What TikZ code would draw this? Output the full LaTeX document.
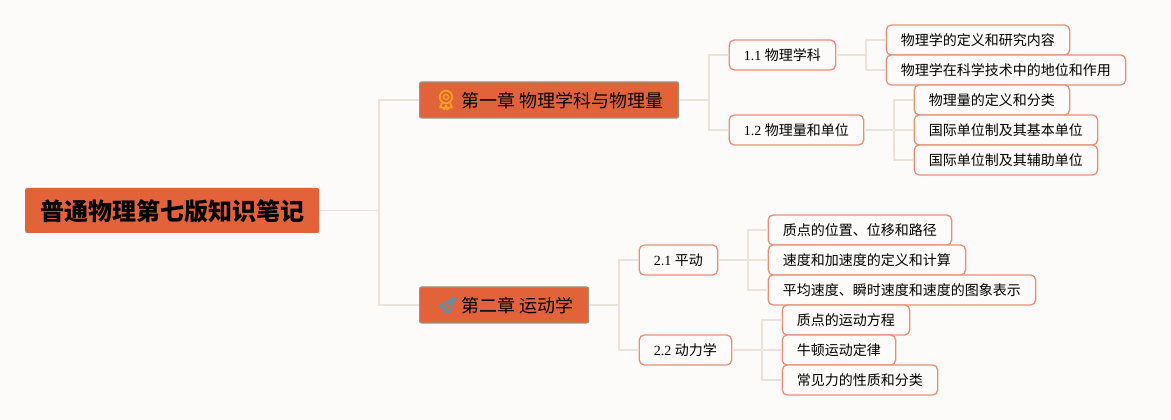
\documentclass[tikz,border=0pt]{standalone}
\usepackage{fontspec}
\setmainfont{Liberation Serif}
\newfontfamily\cjk{Noto Sans CJK SC}
\usepackage{tikz}

\definecolor{paper}{HTML}{FCFBFA}
\definecolor{linkcol}{HTML}{EDE2D8}
\definecolor{leafcol}{HTML}{E98E74}
\definecolor{chapcol}{HTML}{E2623A}
\definecolor{chapline}{HTML}{9C937F}
\definecolor{medalcol}{HTML}{F4A41F}
\definecolor{planecol}{HTML}{5E8FAF}

\tikzset{
  rootbox/.style={anchor=west,fill=chapcol,rounded corners=2pt,inner xsep=15pt,inner ysep=0pt,minimum height=45pt,text height=22pt,text depth=2pt,font=\cjk\bfseries\fontsize{24}{24}\selectfont},
  chapbox/.style={anchor=west,fill=chapcol,draw=chapline,line width=1.2pt,rounded corners=2pt,inner xsep=15pt,inner ysep=0pt,minimum height=36pt,text height=17pt,text depth=1.4pt,font=\cjk\fontsize{18}{18}\selectfont},
  secbox/.style={anchor=west,fill=paper,draw=leafcol,line width=1.3pt,rounded corners=5pt,inner xsep=14.7pt,inner ysep=0pt,minimum height=30pt,text height=13pt,text depth=1pt,font=\fontsize{14}{14}\selectfont},
  leafbox/.style={secbox,font=\cjk\fontsize{14}{14}\selectfont},
  link/.style={draw=linkcol,line width=1.5pt},
  medal/.pic={
    \draw[medalcol,line width=1.7pt] (-1,3) circle (6.3pt);
    \draw[medalcol,line width=1.5pt] (-1,3) circle (2.6pt);
    \draw[medalcol,line width=1.7pt,line join=round] (-5,-3) -- (-7,-7.5) -- (-4,-7.5) -- (-2.5,-9.5) -- (-1,-5);
    \draw[medalcol,line width=1.7pt,line join=round] (3,-3) -- (5,-7.5) -- (2,-7.5) -- (0.5,-9.5) -- (-1,-5);
  },
  plane/.pic={
    \draw[planecol,line width=2pt,line join=round] (8.5,7.5) -- (-7.5,-1) -- (-3,-3.5) -- (2,-8) -- cycle;
    \draw[planecol,line width=1.6pt,line join=round] (8.5,7.5) -- (-3,-3.5) -- (-3,-8) -- (-0.5,-5.8);
  }
}

\begin{document}
\begin{tikzpicture}[x=1pt,y=1pt]
\useasboundingbox[fill=paper] (0,0) rectangle (1171,420);

\node[rootbox] (root) at (25,209.5) {普通物理第七版知识笔记};

\node[chapbox] (ch1) at (419,320) {\hspace{27pt}第一章 物理学科与物理量};
\node[chapbox] (ch2) at (419,115) {\hspace{27pt}第二章 运动学};

\node[secbox] (s11) at (728.6,365) {1.1 {\cjk 物理学科}};
\node[secbox] (s12) at (728.6,290) {1.2 {\cjk 物理量和单位}};
\node[secbox] (s21) at (638.6,160) {2.1 {\cjk 平动}};
\node[secbox] (s22) at (638.6,70) {2.2 {\cjk 动力学}};

\coordinate (j0) at (379,209.5);
\coordinate (j1) at (709,320);
\coordinate (j2) at (619,115);
\coordinate (j11) at (866,365);
\coordinate (j12) at (894,290);
\coordinate (j21) at (748,160);
\coordinate (j22) at (762,70);

\node[leafbox] (a1) at (885.6,380) {物理学的定义和研究内容};
\node[leafbox] (a2) at (885.6,350) {物理学在科学技术中的地位和作用};
\node[leafbox] (b1) at (913.6,320) {物理量的定义和分类};
\node[leafbox] (b2) at (913.6,290) {国际单位制及其基本单位};
\node[leafbox] (b3) at (913.6,260) {国际单位制及其辅助单位};
\node[leafbox] (c1) at (767.6,190) {质点的位置、位移和路径};
\node[leafbox] (c2) at (767.6,160) {速度和加速度的定义和计算};
\node[leafbox] (c3) at (767.6,130) {平均速度、瞬时速度和速度的图象表示};
\node[leafbox] (d1) at (781.6,100) {质点的运动方程};
\node[leafbox] (d2) at (781.6,70) {牛顿运动定律};
\node[leafbox] (d3) at (781.6,40) {常见力的性质和分类};

\pic at ([xshift=28pt]ch1.west) {medal};
\pic at ([xshift=28pt]ch2.west) {plane};

\draw[link] (root.east) -- (j0);
\draw[link] (j0) |- (ch1.west);
\draw[link] (j0) |- (ch2.west);

\draw[link] (ch1.east) -- (j1);
\draw[link] (j1) |- (s11.west);
\draw[link] (j1) |- (s12.west);
\draw[link] (ch2.east) -- (j2);
\draw[link] (j2) |- (s21.west);
\draw[link] (j2) |- (s22.west);

\draw[link] (s11.east) -- (j11);
\draw[link] (j11) |- (a1.west);
\draw[link] (j11) |- (a2.west);
\draw[link] (s12.east) -- (j12);
\draw[link] (j12) |- (b1.west);
\draw[link] (j12) -- (b2.west);
\draw[link] (j12) |- (b3.west);
\draw[link] (s21.east) -- (j21);
\draw[link] (j21) |- (c1.west);
\draw[link] (j21) -- (c2.west);
\draw[link] (j21) |- (c3.west);
\draw[link] (s22.east) -- (j22);
\draw[link] (j22) |- (d1.west);
\draw[link] (j22) -- (d2.west);
\draw[link] (j22) |- (d3.west);
\end{tikzpicture}
\end{document}
